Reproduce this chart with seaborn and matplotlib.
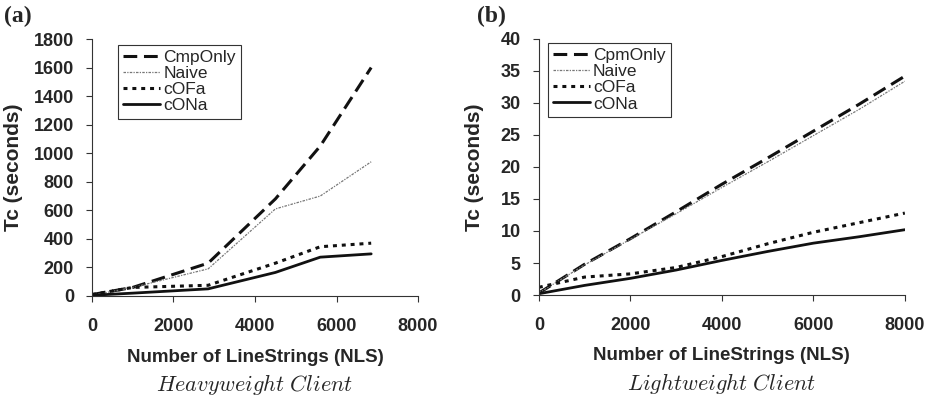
import seaborn as sns
import matplotlib.pyplot as plt
import numpy as np
import pandas as pd

# (a) Heavyweight client
nls_a = [0, 1000, 2850, 4500, 5600, 6850]
cmp_a = [10, 60, 230, 680, 1050, 1600]
naive_a = [5, 60, 190, 610, 700, 940]
cofa_a = [10, 60, 75, 230, 345, 370]
cona_a = [5, 20, 50, 165, 272, 295]

# (b) Lightweight client
nls_b = [0, 1000, 2000, 3000, 4000, 5000, 6000, 7000, 8000]
cmp_b = [0.3, 4.8, 8.8, 13.0, 17.3, 21.4, 25.6, 29.8, 34.2]
naive_b = [0.3, 4.7, 8.7, 12.7, 16.8, 20.8, 24.9, 29.0, 33.4]
cofa_b = [1.2, 2.8, 3.3, 4.3, 6.0, 8.0, 9.8, 11.3, 12.8]
cona_b = [0.2, 1.5, 2.6, 3.9, 5.4, 6.8, 8.1, 9.1, 10.2]

sns.set_style("ticks")
plt.rcParams['font.family'] = ['Liberation Sans', 'DejaVu Sans']
plt.rcParams['mathtext.fontset'] = 'cm'

styles = {
    "cmp": dict(color="#111111", lw=2.2, dashes=(4.5, 2.2)),
    "naive": dict(color="#777777", lw=0.9, dashes=(2, 1, 1, 1)),
    "cofa": dict(color="#111111", lw=2.2, dashes=(1.3, 1.6)),
    "cona": dict(color="#111111", lw=2.0, dashes=()),
}

fig = plt.figure(figsize=(9.29, 4), dpi=100)
ax_a = fig.add_axes([0.099, 0.26, 0.351, 0.6425])
ax_b = fig.add_axes([0.580, 0.2625, 0.394, 0.64])


def draw(ax, x, series, names, ymax, ystep, legend_anchor, ylab_x, subtitle):
    for key, y, name in zip(["cmp", "naive", "cofa", "cona"], series, names):
        st = styles[key]
        sns.lineplot(x=x, y=y, ax=ax, color=st["color"], lw=st["lw"], label=name)
        if st["dashes"]:
            ax.lines[-1].set_dashes(st["dashes"])
    ax.set_xlim(0, 8000)
    ax.set_ylim(0, ymax)
    ax.set_xticks(np.arange(0, 8001, 2000))
    ax.set_yticks(np.arange(0, ymax + 0.1, ystep))
    for s in ["top", "right"]:
        ax.spines[s].set_visible(False)
    for s in ["left", "bottom"]:
        ax.spines[s].set_color("#333333")
        ax.spines[s].set_linewidth(0.8)
    ax.tick_params(length=4, width=0.8, labelsize=13, color="#333333")
    ax.tick_params(axis="y", pad=9)
    ax.tick_params(axis="x", pad=12)
    for t in ax.get_xticklabels() + ax.get_yticklabels():
        t.set_fontweight("bold")
    ax.set_xlabel("Number of LineStrings (NLS)", fontsize=13.5, fontweight="bold")
    ax.xaxis.set_label_coords(0.5, -0.205)
    ax.set_ylabel("Tc (seconds)", fontsize=15, fontweight="bold")
    ax.yaxis.set_label_coords(ylab_x, 0.5)
    leg = ax.legend(loc="upper left", bbox_to_anchor=legend_anchor, borderaxespad=0,
                    fontsize=12.5, handlelength=2.1, handletextpad=0.2,
                    labelspacing=0.05, borderpad=0.3, fancybox=False,
                    framealpha=1, edgecolor="#333333")
    leg.get_frame().set_linewidth(0.8)
    ax.text(0.5, -0.345, subtitle, transform=ax.transAxes, ha="center", va="center",
            fontsize=16)


draw(ax_a, nls_a, [cmp_a, naive_a, cofa_a, cona_a],
     ["CmpOnly", "Naive", "cOFa", "cONa"], 1800, 200, (0.08, 0.977), -0.21,
     r"$Heavyweight\ Client$")
draw(ax_b, nls_b, [cmp_b, naive_b, cofa_b, cona_b],
     ["CpmOnly", "Naive", "cOFa", "cONa"], 40, 5, (0.025, 0.984), -0.15,
     r"$Lightweight\ Client$")

fig.text(0.004, 0.985, "(a)", fontsize=17, fontweight="bold", family="Liberation Serif",
         va="top")
fig.text(0.513, 0.985, "(b)", fontsize=17, fontweight="bold", family="Liberation Serif",
         va="top")

fig.savefig("out.png", dpi=100)
